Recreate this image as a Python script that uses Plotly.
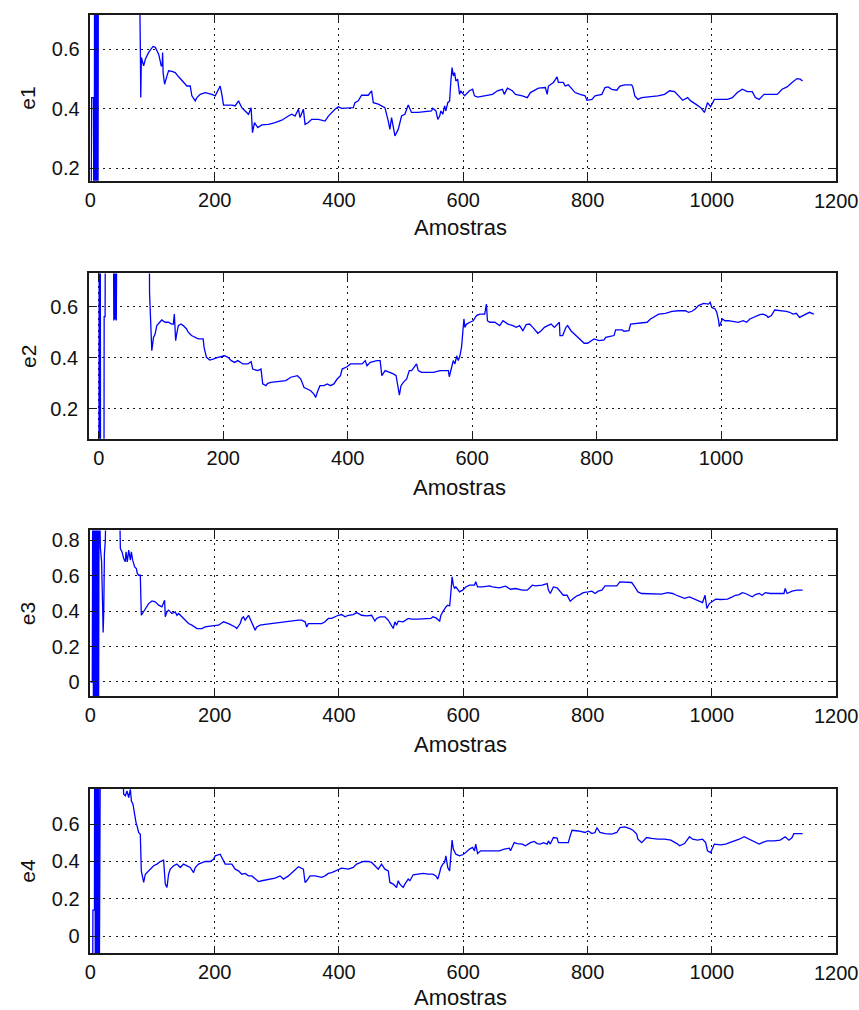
import plotly.graph_objects as go

# ---------------- data ----------------
e1_x = [0, 2, 5, 6, 7, 8, 9, 10, 11, 12, 13, 20, 40, 60, 79, 80.5, 81, 82, 85.7, 88.4, 93.7, 100.7, 104.4, 109.8, 114, 115.5, 116.2, 117, 119.4, 123.2, 125.8, 131.2, 136.5, 141.9, 147.3, 152.6, 155.3, 160.6, 163.3, 168.7, 171.4, 176.7, 184.7, 195.4, 200.8, 206.2, 208.8, 211.5, 214.2, 227.6, 232.9, 238.3, 243.6, 249, 254.4, 258.6, 260.8, 264, 269.3, 275.8, 286.5, 297.2, 307.9, 318.6, 324, 329.3, 334.7, 337.3, 342.7, 345.4, 350.7, 356.1, 366.8, 377.5, 382.9, 393.6, 398.9, 404.3, 415, 423, 425.7, 431, 436.4, 447.1, 452.5, 455.2, 463.2, 473.9, 479.3, 481.9, 484.6, 487.3, 490, 495.3, 500.7, 506, 511.4, 516.7, 527.4, 538.2, 548.9,
        551, 556, 559, 562, 564, 567, 570, 572, 575, 578, 580, 582, 584, 586, 588, 591, 594, 596, 602, 610, 615, 618, 623, 636, 647, 655, 663, 666, 671, 679, 684, 695, 703, 708, 716, 721, 732, 735, 737, 745, 751, 753, 761, 764, 769, 775, 780, 788, 796, 799, 807, 812, 823, 828, 833, 839, 847, 852, 860, 871, 873, 876, 881, 887, 897, 913, 924, 932, 940, 945, 953, 961, 966, 974, 982, 988, 993, 998, 1004, 1014, 1025, 1033, 1041, 1049, 1057, 1065, 1070, 1076, 1081, 1084, 1094, 1105, 1113, 1121, 1129, 1137, 1142, 1146]
e1_y = [-0.5, 0.437, 0.437, -0.5, 1.5, -0.5, 1.5, -0.4, 1.5, -0.3, 1.2, 1.0, 0.95, 0.9, 0.85, 0.57, 0.437, 0.572, 0.544, 0.566, 0.589, 0.609, 0.606, 0.583, 0.544, 0.544, 0.589, 0.520, 0.482, 0.510, 0.527, 0.525, 0.521, 0.507, 0.493, 0.482, 0.476, 0.476, 0.443, 0.426, 0.437, 0.448, 0.454, 0.448, 0.443, 0.465, 0.476, 0.448, 0.412, 0.412, 0.409, 0.426, 0.403, 0.392, 0.381, 0.403, 0.319, 0.353, 0.336, 0.345, 0.347, 0.353, 0.361, 0.375, 0.381, 0.375, 0.398, 0.370, 0.398, 0.347, 0.353, 0.364, 0.364, 0.358, 0.375, 0.398, 0.406, 0.401, 0.401, 0.403, 0.420, 0.426, 0.445, 0.445, 0.460, 0.420, 0.415, 0.403, 0.358, 0.330, 0.370, 0.336, 0.308, 0.330, 0.375, 0.381, 0.412, 0.387, 0.387, 0.390, 0.392,
        0.401, 0.392, 0.364, 0.375, 0.392, 0.381, 0.409, 0.392, 0.420, 0.426, 0.493, 0.538, 0.510, 0.521, 0.493, 0.499, 0.448, 0.460, 0.443, 0.460, 0.465, 0.443, 0.439, 0.443, 0.448, 0.460, 0.465, 0.448, 0.469, 0.460, 0.448, 0.443, 0.437, 0.454, 0.465, 0.469, 0.471, 0.448, 0.476, 0.488, 0.507, 0.488, 0.488, 0.476, 0.480, 0.465, 0.454, 0.448, 0.443, 0.428, 0.431, 0.443, 0.448, 0.471, 0.473, 0.465, 0.462, 0.476, 0.480, 0.480, 0.471, 0.443, 0.431, 0.437, 0.439, 0.443, 0.448, 0.460, 0.457, 0.445, 0.428, 0.437, 0.426, 0.415, 0.403, 0.387, 0.420, 0.406, 0.431, 0.431, 0.431, 0.437, 0.454, 0.465, 0.457, 0.457, 0.437, 0.431, 0.443, 0.448, 0.448, 0.448, 0.465, 0.473, 0.488, 0.501, 0.499, 0.493]

e2_x = [0, 0.7, 1.4, 2.1, 2.8, 8, 8.5, 10, 11, 23, 24, 25, 26, 27, 28, 29, 50, 80.9, 81.5, 85.1, 87.8, 90.4, 93.1, 95.7, 101.1, 106.4, 111.7, 117, 119.7, 121.3, 123.4, 125, 127.7, 131.9, 135.6, 141, 143.6, 148.9, 154.3, 159.6, 167.6, 169.1, 172.9, 178.2, 183.5, 191.5, 202.1, 207.4, 212.8, 218.1, 223.4, 231.4, 239.4, 244.7, 247.3, 255.3, 260.6, 263.3, 268.6, 271.3, 276.6, 287.2, 300.5, 308.5, 319.1, 324.5, 329.8, 335.1, 340.4, 345.7, 348.4, 351.1, 355.3, 361.7, 367, 372.3, 377.7, 383, 388.3, 391, 398.9, 404.3, 414.9, 422.9, 428.2, 430.9, 436.2, 446.8, 452.1, 454.8, 460.1, 468.1, 473.4, 477.7, 479.8, 483, 485.6, 489.4, 494.7, 498.9, 502.7, 510.6, 513.3, 518.6, 537.7,
        548.3, 561.7, 563.2, 567, 569.6, 572.3, 575, 577.6, 580.3, 583, 585.6, 586.7, 588.3, 590.9, 596.3, 601.6, 606.9, 612.3, 620.2, 622.9, 624.5, 628.2, 636.2, 644.2, 649.5, 657.5, 665.5, 670.8, 676.2, 681.5, 686.8, 692.1, 697.5, 705.5, 710.8, 716.1, 721.4, 726.8, 732.1, 740.1, 741.1, 745.4, 750.7, 753.4, 758.7, 764, 769.4, 774.7, 780, 785.4, 790.7, 796, 804, 812, 814.6, 822.6, 828, 830.6, 841.3, 843.9, 851.9, 854.6, 867.9, 881.2, 886.6, 894.5, 899.9, 910.5, 921.2, 931.9, 942.5, 947.8, 953.2, 958.5, 963.8, 971.8, 979.8, 982.5, 985.1, 990.5, 993.1, 995.8, 997.3, 1002.1, 1006.4, 1011.7, 1017, 1027.7, 1035.7, 1041, 1046.3, 1051.7, 1057, 1062.3, 1067.6, 1073, 1075.6, 1080.9, 1086.3, 1099.6, 1104.9, 1110.3, 1115.6, 1120.9, 1126.2, 1131.6, 1136.9, 1142.2, 1149.1]
e2_y = [-0.5, 1.5, -0.5, 1.5, -0.5, -0.5, 0.561, 0.561, 1.5, 1.2, 0.546, 1.2, 0.55, 1.2, 0.546, 1.0, 1.0, 0.9, 0.650, 0.428, 0.480, 0.493, 0.526, 0.532, 0.548, 0.539, 0.539, 0.532, 0.532, 0.571, 0.467, 0.493, 0.526, 0.532, 0.526, 0.513, 0.500, 0.487, 0.480, 0.474, 0.474, 0.441, 0.402, 0.391, 0.395, 0.402, 0.408, 0.402, 0.389, 0.382, 0.389, 0.376, 0.376, 0.385, 0.356, 0.350, 0.356, 0.298, 0.291, 0.300, 0.304, 0.308, 0.311, 0.324, 0.330, 0.317, 0.284, 0.278, 0.271, 0.258, 0.245, 0.265, 0.291, 0.291, 0.298, 0.291, 0.298, 0.317, 0.330, 0.356, 0.365, 0.376, 0.376, 0.376, 0.389, 0.369, 0.382, 0.389, 0.389, 0.330, 0.350, 0.343, 0.337, 0.330, 0.298, 0.254, 0.291, 0.304, 0.317, 0.350, 0.350, 0.376, 0.350, 0.343, 0.343,
        0.350, 0.350, 0.326, 0.363, 0.389, 0.376, 0.408, 0.389, 0.408, 0.444, 0.519, 0.552, 0.519, 0.532, 0.539, 0.545, 0.565, 0.571, 0.571, 0.610, 0.545, 0.539, 0.539, 0.526, 0.545, 0.532, 0.526, 0.519, 0.526, 0.506, 0.530, 0.532, 0.519, 0.496, 0.506, 0.519, 0.526, 0.532, 0.519, 0.539, 0.487, 0.487, 0.519, 0.526, 0.506, 0.493, 0.483, 0.470, 0.457, 0.457, 0.467, 0.474, 0.467, 0.470, 0.480, 0.483, 0.487, 0.509, 0.509, 0.504, 0.506, 0.532, 0.535, 0.539, 0.552, 0.565, 0.571, 0.574, 0.582, 0.584, 0.584, 0.578, 0.582, 0.591, 0.604, 0.613, 0.610, 0.617, 0.597, 0.591, 0.578, 0.548, 0.522, 0.552, 0.545, 0.545, 0.543, 0.539, 0.545, 0.539, 0.552, 0.558, 0.565, 0.569, 0.571, 0.565, 0.558, 0.565, 0.587, 0.584, 0.582, 0.578, 0.571, 0.574, 0.558, 0.565, 0.571, 0.578, 0.571]

e3_x = [0, 3, 4, 5, 6, 7, 8, 9, 10, 11, 12, 13, 14, 16, 18, 19.5, 20.5, 21.5, 22.5, 24, 26, 47, 48.2, 50.9, 53.5, 56.2, 57.3, 59.4, 61.6, 64.3, 65.9, 68, 71.2, 73.9, 75.5, 77.6, 80.3, 81.9, 85.7, 88.4, 93.7, 99.1, 104.4, 109.8, 115.1, 119.4, 120.5, 123.2, 125.8, 128.5, 131.2, 136.5, 139.2, 141.9, 144.6, 147.3, 152.6, 158, 163.3, 171.4, 179.4, 184.7, 195.4, 206.2, 214.2, 222.2, 232.9, 235.6, 241, 243.6, 246.3, 249, 254.4, 259.7, 262.4, 265.1, 267.7, 273.1, 281.1, 291.8, 302.5, 313.3, 324, 334.7, 340, 345.4, 348.1, 350.7, 361.4, 372.2, 377.5, 382.9, 388.2, 393.6, 398.9, 404.3, 409.6, 415, 423, 428.4, 431, 436.4, 444.4, 452.5, 457.8, 460.5, 465.9, 473.9, 479.3, 484.6, 487.3, 490, 492.6, 495.3, 503.3, 511.4, 516.7, 527.4, 538.2, 548,
        551, 556, 562, 564, 567, 570, 572, 575, 578, 579, 582, 584, 586, 588, 591, 594, 599, 604, 610, 618, 620, 623, 631, 642, 647, 658, 668, 676, 684, 695, 703, 711, 716, 727, 735, 737, 740, 745, 751, 756, 761, 767, 772, 777, 783, 788, 793, 801, 807, 812, 817, 823, 828, 839, 847, 852, 865, 871, 876, 881, 887, 897, 903, 919, 929, 937, 943, 950, 956, 964, 972, 980, 985, 989, 992, 996, 1001, 1006, 1014, 1025, 1033, 1038, 1044, 1049, 1054, 1060, 1065, 1070, 1076, 1081, 1086, 1094, 1105, 1116, 1118, 1121, 1129, 1137, 1146]
e3_y = [0.0, 0.0, 1.5, -0.5, 1.5, -0.5, 1.5, -0.5, 1.5, -0.5, 1.5, -0.5, 1.2, 0.76, 0.68, 0.45, 0.28, 0.40, 0.72, 0.80, 1.2, 1.0, 0.754, 0.735, 0.698, 0.679, 0.735, 0.679, 0.745, 0.688, 0.735, 0.688, 0.650, 0.641, 0.613, 0.603, 0.603, 0.377, 0.396, 0.415, 0.443, 0.458, 0.453, 0.434, 0.424, 0.462, 0.368, 0.396, 0.406, 0.396, 0.387, 0.396, 0.377, 0.387, 0.377, 0.368, 0.349, 0.330, 0.321, 0.302, 0.302, 0.311, 0.317, 0.321, 0.340, 0.330, 0.311, 0.302, 0.330, 0.359, 0.368, 0.349, 0.377, 0.340, 0.321, 0.293, 0.311, 0.321, 0.325, 0.330, 0.336, 0.340, 0.344, 0.349, 0.349, 0.340, 0.311, 0.330, 0.330, 0.330, 0.340, 0.359, 0.359, 0.368, 0.377, 0.381, 0.368, 0.377, 0.381, 0.392, 0.387, 0.377, 0.374, 0.377, 0.344, 0.359, 0.368, 0.368, 0.349, 0.321, 0.302, 0.340, 0.321, 0.344, 0.340, 0.359, 0.355, 0.355, 0.359, 0.359,
        0.368, 0.362, 0.344, 0.377, 0.396, 0.415, 0.424, 0.434, 0.430, 0.462, 0.594, 0.547, 0.528, 0.537, 0.524, 0.509, 0.519, 0.537, 0.547, 0.547, 0.566, 0.537, 0.537, 0.543, 0.537, 0.532, 0.541, 0.524, 0.528, 0.519, 0.519, 0.547, 0.543, 0.547, 0.556, 0.519, 0.500, 0.537, 0.532, 0.509, 0.490, 0.490, 0.456, 0.472, 0.487, 0.494, 0.505, 0.509, 0.513, 0.500, 0.513, 0.519, 0.543, 0.543, 0.543, 0.566, 0.566, 0.562, 0.537, 0.509, 0.500, 0.500, 0.496, 0.496, 0.505, 0.500, 0.490, 0.481, 0.472, 0.481, 0.468, 0.453, 0.449, 0.490, 0.415, 0.443, 0.456, 0.468, 0.466, 0.468, 0.481, 0.490, 0.494, 0.505, 0.500, 0.487, 0.481, 0.494, 0.500, 0.490, 0.505, 0.500, 0.500, 0.500, 0.528, 0.500, 0.513, 0.519, 0.519]

e4_x = [0, 3.5, 4, 6.5, 7, 8, 9, 10, 11, 12, 13, 14, 15, 16, 35, 52, 53.5, 56.2, 58.9, 61.6, 64.3, 65.9, 68.5, 71.2, 73.4, 75, 77.6, 80.3, 81.9, 84.1, 85.7, 88.4, 91, 96.4, 101.7, 107.1, 112.4, 117.8, 120.5, 123.2, 125.8, 128.5, 133.9, 139.2, 144.6, 149.9, 155.3, 160.6, 166, 168.7, 174, 179.4, 184.7, 192.8, 198.1, 200.8, 208.8, 211.5, 216.9, 227.6, 232.9, 238.3, 243.6, 249, 254.4, 259.7, 265.1, 270.4, 275.8, 286.5, 297.2, 305.2, 310.6, 318.6, 324, 329.3, 334.7, 342.7, 345.4, 348.1, 353.4, 361.4, 372.2, 377.5, 382.9, 388.2, 393.6, 398.9, 404.3, 415, 423, 428.4, 433.7, 439.1, 447.1, 452.5, 457.8, 463.2, 468.5, 473.9, 479.3, 481.9, 487.3, 492.6, 495.3, 498, 503.3, 506, 511.4, 514.1, 519.4, 527.4, 535.5, 543.5, 548,
        551, 556, 559, 562, 564, 567, 570, 572, 575, 578, 580, 582, 584, 586, 588, 594, 599, 604, 610, 615, 618, 620, 623, 628, 636, 647, 658, 666, 674, 676, 682, 687, 695, 700, 708, 714, 719, 724, 729, 735, 737, 740, 745, 751, 753, 761, 769, 772, 775, 785, 796, 801, 807, 812, 815, 820, 828, 839, 847, 852, 860, 868, 873, 879, 881, 887, 895, 903, 913, 924, 934, 945, 948, 956, 964, 969, 977, 985, 990, 993, 998, 1004, 1009, 1014, 1022, 1030, 1036, 1044, 1052, 1060, 1068, 1076, 1081, 1089, 1100, 1110, 1118, 1124, 1129, 1132, 1140, 1146]
e4_y = [-0.5, -0.5, 0.14, 0.14, 1.5, -0.5, 1.5, -0.5, 1.5, -0.5, 1.5, -0.5, 1.5, 1.0, 0.95, 0.9, 0.759, 0.751, 0.777, 0.742, 0.786, 0.724, 0.706, 0.635, 0.608, 0.590, 0.555, 0.546, 0.350, 0.315, 0.288, 0.332, 0.341, 0.359, 0.377, 0.386, 0.400, 0.407, 0.279, 0.261, 0.332, 0.359, 0.377, 0.386, 0.368, 0.386, 0.377, 0.368, 0.341, 0.368, 0.386, 0.395, 0.400, 0.400, 0.412, 0.430, 0.439, 0.421, 0.386, 0.386, 0.359, 0.350, 0.332, 0.336, 0.323, 0.323, 0.306, 0.293, 0.297, 0.306, 0.311, 0.323, 0.306, 0.323, 0.341, 0.359, 0.372, 0.359, 0.288, 0.297, 0.323, 0.323, 0.315, 0.323, 0.336, 0.341, 0.350, 0.359, 0.364, 0.359, 0.368, 0.386, 0.395, 0.400, 0.400, 0.395, 0.377, 0.359, 0.386, 0.359, 0.350, 0.288, 0.279, 0.261, 0.297, 0.279, 0.261, 0.279, 0.306, 0.297, 0.329, 0.332, 0.336, 0.332, 0.332,
        0.332, 0.323, 0.306, 0.341, 0.368, 0.386, 0.395, 0.430, 0.368, 0.350, 0.439, 0.514, 0.466, 0.448, 0.439, 0.430, 0.436, 0.448, 0.466, 0.475, 0.457, 0.493, 0.443, 0.457, 0.457, 0.453, 0.457, 0.466, 0.471, 0.457, 0.501, 0.496, 0.493, 0.484, 0.501, 0.507, 0.496, 0.493, 0.501, 0.493, 0.510, 0.493, 0.528, 0.525, 0.501, 0.501, 0.501, 0.537, 0.567, 0.563, 0.555, 0.563, 0.549, 0.555, 0.581, 0.555, 0.549, 0.546, 0.555, 0.581, 0.585, 0.576, 0.567, 0.546, 0.519, 0.501, 0.528, 0.523, 0.519, 0.519, 0.514, 0.493, 0.484, 0.496, 0.532, 0.519, 0.514, 0.519, 0.501, 0.457, 0.448, 0.493, 0.489, 0.489, 0.493, 0.501, 0.510, 0.519, 0.532, 0.519, 0.510, 0.493, 0.501, 0.510, 0.510, 0.514, 0.532, 0.514, 0.528, 0.549, 0.549, 0.549]

y_titles = ["e1", "e2", "e3", "e4"]
x_title = "Amostras"
x_tickvals = [0, 200, 400, 600, 800, 1000]
x_edge_tick = [1200, None, 1200, 1200]   # last tick, lying on the right frame edge
x_ranges = [[0, 1200], [-16, 1185], [0, 1200], [0, 1200]]
y_ranges = [[0.157, 0.715], [0.083, 0.730], [-0.081, 0.856], [-0.091, 0.790]]

# ---------------- layout geometry (pixels) ----------------
W, H = 859, 1010
boxes = [  # left, right, top, bottom in px
    (85, 836, 14, 180),
    (83.5, 836, 272.7, 438.3),
    (85, 836, 530, 696),
    (85, 836, 788.3, 953.3),
]
xtitle_y = [227, 487, 744, 997]

FONT = "Liberation Sans, Arial, Helvetica, sans-serif"
TICK = dict(family=FONT, size=20, color="#111")
fig = go.Figure()
series = [(e1_x, e1_y), (e2_x, e2_y), (e3_x, e3_y), (e4_x, e4_y)]
annotations = []
for i, ((xs, ys), (l, r, t, b)) in enumerate(zip(series, boxes)):
    k = "" if i == 0 else str(i + 1)
    fig.add_trace(go.Scatter(x=xs, y=ys, mode="lines", xaxis="x" + k, yaxis="y" + k,
                             line=dict(color="#0000ff", width=1.3), showlegend=False,
                             hoverinfo="skip"))
    common = dict(showline=True, linecolor="#1a1a1a", linewidth=1.5, mirror="ticks",
                  ticks="inside", ticklen=7, tickcolor="#1a1a1a", tickwidth=1.2,
                  showgrid=True, gridcolor="#1a1a1a", gridwidth=1.3, griddash="2px,4.3px",
                  zeroline=False, tickfont=TICK, fixedrange=True)
    fig.update_layout(**{
        "xaxis" + k: dict(domain=[l / W, r / W], anchor="y" + k, range=x_ranges[i],
                          tickvals=x_tickvals, ticktext=[str(v) for v in x_tickvals],
                          ticklabelstandoff=0, **common),
        "yaxis" + k: dict(domain=[1 - b / H, 1 - t / H], anchor="x" + k, range=y_ranges[i],
                          dtick=0.2, tick0=0, ticklabelstandoff=5, **common),
    })
    if x_edge_tick[i] is not None:
        # label of the tick that sits on the right frame edge (kept inside the page)
        annotations.append(dict(text=str(x_edge_tick[i]), xref="x" + k, yref="paper",
                                x=x_edge_tick[i], y=1 - (b + 19.7) / H,
                                showarrow=False, xanchor="center", yanchor="middle",
                                font=TICK))
    annotations.append(dict(text=x_title, xref="paper", yref="paper",
                            x=((l + r) / 2 - 3) / W, y=1 - xtitle_y[i] / H,
                            showarrow=False, xanchor="center", yanchor="middle",
                            font=dict(family=FONT, size=22, color="#111")))
    annotations.append(dict(text=y_titles[i], xref="paper", yref="paper",
                            x=22 / W, y=1 - ((t + b) / 2) / H, textangle=-90,
                            showarrow=False, xanchor="center", yanchor="middle",
                            font=dict(family=FONT, size=21, color="#111")))

fig.update_layout(width=W, height=H, margin=dict(l=0, r=0, t=0, b=0),
                  paper_bgcolor="white", plot_bgcolor="white",
                  annotations=annotations)
fig.write_html("out.html")
